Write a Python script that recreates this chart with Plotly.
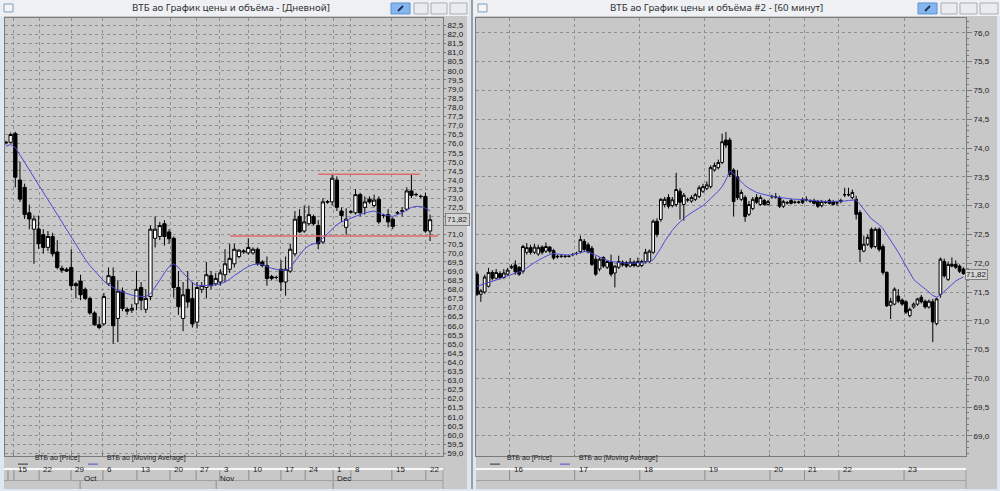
import plotly.graph_objects as go

W, H = 1000, 491

# ---------------- Daily chart (left window) ----------------
d_open = [76.05, 76.07, 76.55, 74.00, 73.60, 72.20, 71.30, 71.31, 71.00, 70.30,
          70.90, 70.05, 69.15, 69.10, 69.20, 68.30, 68.45, 68.00, 67.50, 66.70,
          66.05, 66.10, 68.30, 68.70, 66.40, 67.90, 66.90, 66.85, 67.20, 68.10,
          66.90, 67.60, 70.80, 70.90, 71.60, 71.15, 70.80, 68.10, 66.40, 68.00,
          67.50, 66.20, 68.00, 68.10, 68.75, 68.30, 68.40, 68.80, 69.10, 69.40,
          69.80, 70.05, 70.00, 70.00, 70.20, 69.50, 69.30, 68.70, 68.65, 69.10,
          68.40, 69.00, 69.95, 72.00, 71.20, 71.60, 72.00, 71.50, 70.60, 72.80,
          72.80, 74.00, 72.30, 71.40, 72.25, 72.20, 73.20, 72.50, 72.95, 72.60,
          72.95, 72.05, 72.10, 71.85, 72.20, 72.30, 72.40, 73.40, 73.20, 73.10,
          73.10, 71.20]
d_high = [76.15, 76.61, 76.65, 75.00, 73.80, 72.65, 72.05, 72.05, 71.30, 71.20,
          71.10, 70.70, 69.30, 69.20, 70.20, 68.40, 68.80, 68.10, 67.60, 66.80,
          66.50, 67.80, 69.20, 69.20, 68.50, 68.10, 67.00, 67.20, 69.00, 68.40,
          68.00, 71.50, 72.00, 71.70, 71.80, 71.30, 70.90, 69.00, 68.40, 69.00,
          68.40, 68.40, 68.40, 69.50, 69.00, 68.90, 69.10, 70.20, 70.50, 70.50,
          70.20, 70.20, 70.80, 70.30, 70.30, 69.60, 69.80, 68.80, 68.75, 69.60,
          69.80, 70.50, 72.30, 72.40, 72.60, 72.60, 72.10, 71.80, 73.00, 72.90,
          74.30, 74.20, 72.50, 72.45, 72.35, 73.50, 73.30, 73.10, 73.10, 73.20,
          73.10, 72.15, 72.40, 71.95, 72.30, 72.50, 73.60, 74.30, 73.30, 73.20,
          73.30, 72.10]
d_low = [75.95, 76.00, 73.60, 72.80, 71.86, 71.30, 69.40, 70.22, 69.95, 70.10,
         69.80, 69.10, 68.90, 68.95, 67.95, 67.50, 67.40, 67.40, 66.60, 66.00,
         65.80, 66.00, 68.20, 65.00, 65.10, 66.80, 66.60, 66.70, 66.85, 66.85,
         66.70, 67.40, 70.30, 70.70, 70.40, 70.50, 67.55, 66.60, 65.70, 67.00,
         65.90, 65.85, 67.80, 67.50, 68.00, 68.20, 68.20, 68.40, 68.90, 69.20,
         69.70, 69.95, 69.90, 69.90, 69.30, 69.20, 68.20, 68.50, 68.55, 67.90,
         67.65, 68.90, 69.80, 71.10, 71.10, 71.50, 71.50, 70.20, 70.50, 72.70,
         72.60, 72.30, 71.70, 71.00, 72.15, 72.10, 72.00, 72.10, 72.70, 72.50,
         71.60, 71.90, 71.40, 71.30, 72.10, 72.00, 72.30, 73.00, 73.10, 73.00,
         71.10, 70.65]
d_close = [76.07, 76.50, 74.15, 72.95, 72.10, 71.86, 71.86, 70.50, 70.30, 70.90,
           69.95, 69.20, 69.05, 69.00, 68.20, 68.20, 67.70, 67.50, 66.70, 66.05,
           65.90, 67.60, 68.75, 66.00, 67.90, 66.95, 66.80, 66.95, 68.00, 67.40,
           67.50, 71.30, 71.30, 71.50, 70.90, 70.77, 68.10, 67.05, 67.70, 67.30,
           66.10, 68.10, 68.20, 68.80, 68.20, 68.60, 68.90, 69.40, 69.70, 70.20,
           70.15, 70.10, 70.30, 70.20, 69.40, 69.30, 68.60, 68.60, 68.65, 68.40,
           69.10, 70.20, 71.85, 71.15, 71.70, 72.10, 71.60, 70.50, 72.80, 72.80,
           74.10, 72.50, 72.05, 71.85, 72.25, 73.20, 72.20, 72.80, 72.80, 72.90,
           71.70, 72.05, 71.70, 71.45, 72.20, 72.30, 73.40, 73.15, 73.20, 73.10,
           71.20, 71.82]
d_ma = [75.85, 75.95, 75.78, 75.37, 74.96, 74.55, 74.14, 73.73, 73.32, 72.91,
        72.50, 72.09, 71.68, 71.27, 70.86, 70.45, 70.05, 69.65, 69.30, 69.00,
        68.70, 68.45, 68.25, 68.10, 67.95, 67.85, 67.75, 67.68, 67.63, 67.60,
        67.60, 67.75, 68.10, 68.50, 68.90, 69.25, 69.40, 69.20, 68.90, 68.60,
        68.35, 68.20, 68.20, 68.20, 68.22, 68.25, 68.30, 68.40, 68.55, 68.75,
        68.95, 69.10, 69.25, 69.35, 69.40, 69.35, 69.25, 69.15, 69.10, 69.05,
        69.05, 69.15, 69.55, 69.90, 70.20, 70.40, 70.50, 70.55, 70.80, 71.00,
        71.30, 71.55, 71.70, 71.80, 71.90, 72.00, 72.10, 72.20, 72.25, 72.30,
        72.20, 72.10, 72.05, 72.00, 72.10, 72.20, 72.35, 72.50, 72.55, 72.55,
        72.45, 72.30]
d_week_pos = [1.7, 7.1, 13.95, 20.8, 28.1, 35.2, 40.8, 45.9, 52.1, 59.0, 64.2, 70.2, 74.0, 82.8, 90.1]
d_week_labels = ["15", "22", "29", "6", "13", "20", "27", "3", "10", "17", "24", "1", "8", "15", "22"]
d_month_pos = [15.9, 45.1, 70.2]
d_month_labels = ["Oct", "Nov", "Dec"]
d_levels = [74.32, 70.93]
d_level_from = [67.0, 48.1]
d_level_to = [88.8, 92.7]
d_last = 71.82

# ---------------- Hourly chart (right window) ----------------
h_open = [71.81, 71.46, 71.50, 71.60, 71.84, 71.74, 71.82, 71.75, 71.81, 71.92,
          71.97, 71.93, 71.86, 72.19, 72.27, 72.19, 72.16, 72.28, 72.21, 72.28,
          72.22, 72.11, 72.12, 72.12, 72.12, 72.15, 72.17, 72.20, 72.38, 72.32,
          72.26, 72.07, 71.90, 72.10, 71.93, 72.02, 71.83, 71.93, 72.02, 72.01,
          71.95, 72.02, 71.95, 71.96, 72.03, 72.03, 72.19, 72.73, 72.76, 73.02,
          73.14, 73.00, 73.02, 73.25, 73.02, 73.10, 73.08, 73.11, 73.16, 73.25,
          73.30, 73.33, 73.62, 73.66, 73.75, 74.14, 74.14, 73.62, 73.50, 73.11,
          73.14, 72.85, 72.95, 73.14, 73.02, 73.09, 73.02, 73.15, 73.15, 73.14,
          72.99, 73.05, 73.09, 73.06, 73.06, 73.11, 73.10, 73.08, 73.09, 73.07,
          73.00, 73.06, 73.09, 73.07, 73.05, 73.07, 73.19, 73.19, 73.14, 73.11,
          72.88, 72.21, 72.33, 72.59, 72.29, 72.59, 72.29, 71.84, 71.27, 71.29,
          71.43, 71.36, 71.33, 71.09, 71.24, 71.29, 71.41, 71.34, 71.24, 71.33,
          70.95, 71.46, 72.03, 71.72, 71.98, 71.98, 71.95, 71.90]
h_high = [71.86, 71.55, 71.80, 71.92, 71.88, 71.90, 71.86, 71.90, 71.92, 71.98,
          72.05, 71.95, 72.32, 72.35, 72.32, 72.34, 72.32, 72.31, 72.36, 72.30,
          72.25, 72.15, 72.15, 72.14, 72.15, 72.18, 72.20, 72.48, 72.42, 72.36,
          72.30, 72.12, 72.10, 72.12, 72.05, 72.15, 71.97, 72.13, 72.05, 72.04,
          72.09, 72.05, 72.10, 72.06, 72.25, 72.24, 72.76, 72.78, 73.13, 73.15,
          73.20, 73.15, 73.57, 73.30, 73.22, 73.14, 73.18, 73.22, 73.35, 73.38,
          73.42, 73.70, 73.75, 73.80, 74.25, 74.28, 74.18, 73.65, 73.62, 73.28,
          73.18, 73.08, 73.15, 73.20, 73.18, 73.12, 73.10, 73.19, 73.22, 73.17,
          73.10, 73.08, 73.12, 73.09, 73.09, 73.14, 73.16, 73.11, 73.12, 73.10,
          73.10, 73.09, 73.12, 73.10, 73.08, 73.12, 73.31, 73.31, 73.28, 73.17,
          72.92, 72.48, 72.50, 72.62, 72.62, 72.62, 72.33, 71.86, 71.40, 71.58,
          71.55, 71.39, 71.36, 71.23, 71.32, 71.40, 71.45, 71.37, 71.37, 71.38,
          71.40, 72.10, 72.08, 72.03, 72.10, 72.05, 71.98, 71.93]
h_low = [71.43, 71.33, 71.47, 71.58, 71.70, 71.72, 71.72, 71.73, 71.78, 71.90,
         71.80, 71.78, 71.82, 72.15, 72.15, 72.16, 72.13, 72.15, 72.18, 72.17,
         72.06, 72.08, 72.09, 72.09, 72.10, 72.12, 72.14, 72.17, 72.20, 72.17,
         71.95, 71.78, 71.86, 71.92, 71.90, 71.77, 71.58, 71.90, 71.94, 71.92,
         71.93, 71.93, 71.93, 71.93, 72.00, 72.00, 72.16, 72.45, 72.72, 72.97,
         72.95, 72.97, 72.98, 72.76, 72.74, 73.06, 73.05, 73.08, 73.13, 73.22,
         73.27, 73.30, 73.59, 73.63, 73.72, 74.00, 73.50, 72.81, 73.10, 73.08,
         72.72, 72.82, 72.92, 73.03, 73.00, 73.00, 73.00, 73.12, 73.12, 72.96,
         72.96, 73.02, 73.02, 73.03, 73.03, 73.03, 73.07, 73.05, 73.02, 72.96,
         72.97, 73.03, 73.02, 73.00, 73.00, 73.04, 73.15, 73.16, 73.11, 72.76,
         72.02, 72.19, 72.30, 72.25, 72.26, 72.20, 71.80, 71.24, 71.03, 71.27,
         71.31, 71.26, 71.12, 71.06, 71.21, 71.26, 71.30, 71.21, 71.21, 70.63,
         70.92, 71.40, 71.75, 71.69, 71.93, 71.90, 71.83, 71.80]
h_close = [71.46, 71.52, 71.76, 71.84, 71.74, 71.84, 71.75, 71.83, 71.88, 71.94,
           71.85, 71.81, 72.29, 72.27, 72.19, 72.28, 72.27, 72.19, 72.29, 72.21,
           72.09, 72.12, 72.12, 72.12, 72.12, 72.15, 72.17, 72.41, 72.24, 72.20,
           71.98, 71.81, 72.07, 71.95, 72.03, 71.81, 71.95, 72.03, 71.97, 71.95,
           72.02, 71.96, 72.03, 72.03, 72.19, 72.21, 72.73, 72.50, 73.11, 73.11,
           72.99, 73.10, 73.28, 73.06, 73.18, 73.10, 73.14, 73.19, 73.31, 73.33,
           73.36, 73.66, 73.70, 73.75, 74.11, 74.05, 73.54, 73.07, 73.14, 73.23,
           72.81, 73.02, 73.11, 73.06, 73.14, 73.02, 73.07, 73.16, 73.15, 72.99,
           73.07, 73.05, 73.04, 73.06, 73.06, 73.05, 73.10, 73.08, 73.04, 72.99,
           73.07, 73.06, 73.04, 73.02, 73.05, 73.09, 73.19, 73.19, 73.23, 72.85,
           72.24, 72.33, 72.45, 72.28, 72.59, 72.24, 71.84, 71.26, 71.34, 71.55,
           71.34, 71.29, 71.15, 71.20, 71.29, 71.38, 71.33, 71.24, 71.34, 70.98,
           71.38, 72.07, 71.78, 71.98, 71.95, 71.93, 71.86, 71.82]
h_ma = [71.60, 71.62, 71.64, 71.67, 71.69, 71.71, 71.73, 71.76, 71.78, 71.80,
        71.82, 71.84, 71.87, 71.92, 71.97, 72.01, 72.05, 72.09, 72.12, 72.15,
        72.17, 72.16, 72.15, 72.14, 72.14, 72.15, 72.17, 72.19, 72.20, 72.20,
        72.17, 72.13, 72.10, 72.07, 72.05, 72.03, 72.02, 72.01, 72.00, 72.00,
        72.00, 72.00, 72.01, 72.01, 72.02, 72.03, 72.06, 72.15, 72.26, 72.38,
        72.48, 72.57, 72.65, 72.72, 72.78, 72.83, 72.88, 72.92, 72.96, 73.00,
        73.06, 73.12, 73.18, 73.25, 73.33, 73.45, 73.60, 73.56, 73.48, 73.41,
        73.35, 73.30, 73.26, 73.23, 73.21, 73.19, 73.17, 73.16, 73.15, 73.14,
        73.13, 73.12, 73.12, 73.11, 73.11, 73.10, 73.10, 73.09, 73.09, 73.08,
        73.08, 73.07, 73.07, 73.07, 73.07, 73.07, 73.08, 73.09, 73.10, 73.10,
        73.02, 72.93, 72.85, 72.77, 72.72, 72.67, 72.60, 72.50, 72.40, 72.29,
        72.19, 72.07, 71.95, 71.82, 71.72, 71.66, 71.61, 71.56, 71.50, 71.44,
        71.41, 71.45, 71.51, 71.58, 71.64, 71.69, 71.73, 71.76]
h_day_pos = [8.5, 25.5, 42.5, 59.5, 76.5, 85.5, 94.5, 111.5]
h_day_labels = ["16", "17", "18", "19", "20", "21", "22", "23"]
h_last = 71.82

titles = ["ВТБ ао График цены и объёма - [Дневной]",
          "ВТБ ао График цены и объёма #2 - [60 минут]"]
legend_names = ["ВТБ ао [Price]", "ВТБ ао [Moving Average]"]

# ---------------- geometry (pixels) ----------------
PANE_BG = "#c8c8c8"
GRID = "#8e8e8e"
FRAME = "#7a7a7a"
MA_COL = "#4b4bd2"
FONT = "Liberation Sans"

L = dict(x0=5, x1=443, first=6, step=4.66)     # left plot
R = dict(x0=476, x1=966, first=477, step=3.83)  # right plot
PY0, PY1 = 18, 458


def X(p):
    return p / W


def Y(p):
    return 1 - p / H


def lpx(i):
    return L["first"] + L["step"] * i


def rpx(i):
    return R["first"] + R["step"] * i


fig = go.Figure()

common_inc = dict(line=dict(color="black", width=1), fillcolor="white")
common_dec = dict(line=dict(color="black", width=1), fillcolor="black")

fig.add_trace(go.Candlestick(x=list(range(len(d_open))), open=d_open, high=d_high, low=d_low, close=d_close,
                             increasing=common_inc, decreasing=common_dec, whiskerwidth=0,
                             xaxis="x", yaxis="y", showlegend=False, hoverinfo="skip"))
for lv, a, b in zip(d_levels, d_level_from, d_level_to):
    fig.add_trace(go.Scatter(x=[a, b], y=[lv, lv], mode="lines", line=dict(color="#e06a6a", width=1.5),
                             xaxis="x", yaxis="y", showlegend=False, hoverinfo="skip"))
fig.add_trace(go.Scatter(x=list(range(len(d_ma))), y=d_ma, mode="lines", line=dict(color=MA_COL, width=1),
                         xaxis="x", yaxis="y", showlegend=False, hoverinfo="skip"))

fig.add_trace(go.Candlestick(x=list(range(len(h_open))), open=h_open, high=h_high, low=h_low, close=h_close,
                             increasing=common_inc, decreasing=common_dec, whiskerwidth=0,
                             xaxis="x2", yaxis="y2", showlegend=False, hoverinfo="skip"))
fig.add_trace(go.Scatter(x=list(range(len(h_ma))), y=h_ma, mode="lines", line=dict(color=MA_COL, width=1),
                         xaxis="x2", yaxis="y2", showlegend=False, hoverinfo="skip"))

shapes = []
ann = []

# window chrome
for (wx0, wx1) in [(0, 469), (473, 1000)]:
    shapes.append(dict(type="rect", xref="paper", yref="paper", x0=X(wx0), x1=X(wx1), y0=Y(16), y1=Y(0),
                       fillcolor="#eef0f4", line=dict(width=0), layer="below"))
for (px0, px1) in [(4, 467), (476, 997)]:
    shapes.append(dict(type="rect", xref="paper", yref="paper", x0=X(px0), x1=X(px1), y0=Y(491), y1=Y(16),
                       fillcolor=PANE_BG, line=dict(width=0), layer="below"))
shapes.append(dict(type="line", xref="paper", yref="paper", x0=X(472), x1=X(472), y0=Y(491), y1=Y(0),
                   line=dict(color="#555555", width=1)))

# title bar buttons
for bx0, bx1 in [(391, 410), (918, 937)]:
    shapes.append(dict(type="rect", xref="paper", yref="paper", x0=X(bx0), x1=X(bx1), y0=Y(14), y1=Y(3),
                       fillcolor="#86b6ee", line=dict(color="#5a8fd0", width=1)))
    shapes.append(dict(type="line", xref="paper", yref="paper", x0=X(bx0 + 7), x1=X(bx0 + 12), y0=Y(11), y1=Y(6),
                       line=dict(color="#203060", width=2)))
for bx0, bx1 in [(414, 428), (431, 447), (450, 467), (941, 957), (960, 977), (980, 998)]:
    shapes.append(dict(type="rect", xref="paper", yref="paper", x0=X(bx0), x1=X(bx1), y0=Y(14), y1=Y(3),
                       fillcolor="#e9ebee", line=dict(color="#a8adb5", width=1)))
for ix in [4, 478]:
    shapes.append(dict(type="rect", xref="paper", yref="paper", x0=X(ix), x1=X(ix + 9), y0=Y(12), y1=Y(4),
                       fillcolor="#f4f4f4", line=dict(color="#7f9cc0", width=1)))

ann.append(dict(x=X(231), y=Y(8), text=titles[0], xref="paper", yref="paper", showarrow=False,
                xanchor="center", yanchor="middle",
                font=dict(family="Noto Sans", size=9.7, color="#303030")))
ann.append(dict(x=X(716), y=Y(8), text=titles[1], xref="paper", yref="paper", showarrow=False,
                xanchor="center", yanchor="middle",
                font=dict(family="Noto Sans", size=9.7, color="#303030")))

# legend rows
for base in [18, 490]:
    shapes.append(dict(type="line", xref="paper", yref="paper", x0=X(base), x1=X(base + 10), y0=Y(466), y1=Y(466),
                       line=dict(color="#303030", width=1)))
    ann.append(dict(x=X(base + 15), y=Y(466), text=legend_names[0], xref="paper", yref="paper", showarrow=False,
                    xanchor="left", font=dict(family=FONT, size=7, color="#202020")))
    shapes.append(dict(type="line", xref="paper", yref="paper", x0=X(base + 70), x1=X(base + 80), y0=Y(466), y1=Y(466),
                       line=dict(color=MA_COL, width=1)))
    ann.append(dict(x=X(base + 87), y=Y(466), text=legend_names[1], xref="paper", yref="paper", showarrow=False,
                    xanchor="left", font=dict(family=FONT, size=7, color="#202020")))

# date bars
for (bx0, bx1) in [(4, 443), (476, 966)]:
    shapes.append(dict(type="line", xref="paper", yref="paper", x0=X(bx0), x1=X(bx1), y0=Y(471), y1=Y(471),
                       line=dict(color="#f8f8f8", width=2)))
    shapes.append(dict(type="line", xref="paper", yref="paper", x0=X(bx0), x1=X(bx1), y0=Y(482.5), y1=Y(482.5),
                       line=dict(color="#a0a0a0", width=1)))
    shapes.append(dict(type="line", xref="paper", yref="paper", x0=X(bx1), x1=X(bx1), y0=Y(491), y1=Y(472),
                       line=dict(color="#a0a0a0", width=1)))

for p, lab in zip(d_week_pos, d_week_labels):
    px = lpx(p)
    shapes.append(dict(type="line", xref="paper", yref="paper", x0=X(px), x1=X(px), y0=Y(482), y1=Y(472),
                       line=dict(color="#8c8c8c", width=1)))
    ann.append(dict(x=X(px + 2), y=Y(477.5), text=lab, xref="paper", yref="paper", showarrow=False,
                    xanchor="left", font=dict(family=FONT, size=8, color="#202020")))
for p, lab in zip(d_month_pos, d_month_labels):
    px = lpx(p)
    shapes.append(dict(type="line", xref="paper", yref="paper", x0=X(px), x1=X(px), y0=Y(491), y1=Y(483),
                       line=dict(color="#8c8c8c", width=1)))
    ann.append(dict(x=X(px + 2), y=Y(487), text=lab, xref="paper", yref="paper", showarrow=False,
                    xanchor="left", font=dict(family=FONT, size=8, color="#202020")))
shapes.append(dict(type="line", xref="paper", yref="paper", x0=X(8), x1=X(8), y0=Y(482), y1=Y(472),
                   line=dict(color="#8c8c8c", width=1)))
for p, lab in zip(h_day_pos, h_day_labels):
    px = rpx(p)
    shapes.append(dict(type="line", xref="paper", yref="paper", x0=X(px), x1=X(px), y0=Y(482), y1=Y(472),
                       line=dict(color="#8c8c8c", width=1)))
    ann.append(dict(x=X(px + 2), y=Y(477.5), text=lab, xref="paper", yref="paper", showarrow=False,
                    xanchor="left", font=dict(family=FONT, size=8, color="#202020")))

# last price tags
ann.append(dict(x=X(445), y=d_last, xref="paper", yref="y", text="71,82", showarrow=False, xanchor="left",
                font=dict(family=FONT, size=8, color="#202020"), bgcolor="#d4d4d4", bordercolor="#808080",
                borderwidth=1, borderpad=1))
ann.append(dict(x=X(965), y=h_last, xref="paper", yref="y2", text="71,82", showarrow=False, xanchor="left",
                yshift=-1, font=dict(family=FONT, size=8, color="#202020"), bgcolor="#d4d4d4",
                bordercolor="#808080", borderwidth=1, borderpad=0))


def xrange(g):
    return [(g["x0"] - g["first"]) / g["step"], (g["x1"] - g["first"]) / g["step"]]


ytick_l = [59 + 0.5 * k for k in range(48)]
ytext_l = ["" if abs(v - d_last) < 0.4 else f"{v:.1f}".replace(".", ",") for v in ytick_l]
ytick_r = [69 + 0.5 * k for k in range(15)]

axis_font = dict(family=FONT, size=8, color="#202020")
fig.update_layout(
    width=W, height=H, margin=dict(l=0, r=0, t=0, b=0),
    paper_bgcolor="#dfe7f1", plot_bgcolor=PANE_BG,
    separators=",.",
    boxgap=0.22, boxgroupgap=0.1,
    shapes=shapes, annotations=ann,
    xaxis=dict(domain=[X(L["x0"]), X(L["x1"])], range=xrange(L), tickvals=d_week_pos, showticklabels=False,
               showgrid=True, gridcolor=GRID, griddash="dot", gridwidth=1, zeroline=False,
               showline=True, linecolor=FRAME, mirror=True, ticks="inside", ticklen=2, tickcolor=FRAME,
               rangeslider=dict(visible=False), fixedrange=True),
    yaxis=dict(domain=[Y(PY1), Y(PY0)], range=[58.84, 82.9], side="right", tickvals=ytick_l, ticktext=ytext_l,
               showgrid=True, gridcolor=GRID, griddash="dot", gridwidth=1, zeroline=False,
               showline=True, linecolor=FRAME, mirror=True, ticks="outside", ticklen=2, tickcolor=FRAME,
               tickfont=axis_font, fixedrange=True),
    xaxis2=dict(domain=[X(R["x0"]), X(R["x1"])], range=xrange(R), tickvals=h_day_pos, showticklabels=False,
                showgrid=True, gridcolor=GRID, griddash="dot", gridwidth=1, zeroline=False,
                showline=True, linecolor=FRAME, mirror=True, ticks="inside", ticklen=2, tickcolor=FRAME,
                rangeslider=dict(visible=False), fixedrange=True),
    yaxis2=dict(domain=[Y(PY1), Y(PY0)], range=[68.65, 76.26], side="right", anchor="x2", tickvals=ytick_r,
                tickformat=".1f", showgrid=True, gridcolor=GRID, griddash="dot", gridwidth=1, zeroline=False,
                showline=True, linecolor=FRAME, mirror=True, ticks="outside", ticklen=5, tickcolor=FRAME,
                minor=dict(dtick=0.1, ticks="outside", ticklen=2, tickcolor=FRAME, showgrid=False),
                tickfont=axis_font, fixedrange=True),
)

fig.write_html("out.html", config={"displayModeBar": False},
               post_script="document.body.style.margin='0';document.body.style.overflow='hidden';")
